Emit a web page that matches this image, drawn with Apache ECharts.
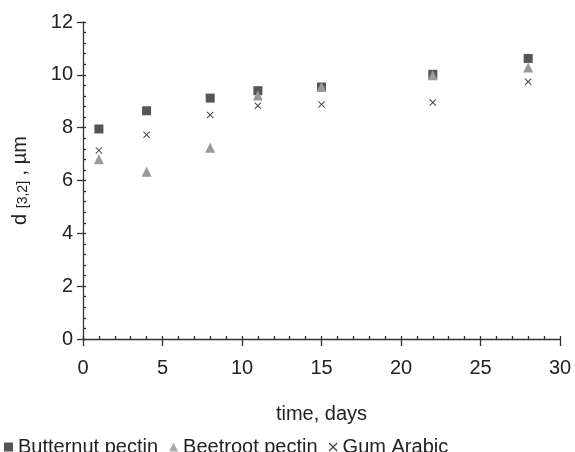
<!DOCTYPE html>
<html>
<head>
<meta charset="utf-8">
<script src="https://cdn.jsdelivr.net/npm/echarts@6/dist/echarts.min.js"></script>
<style>
  html, body { margin: 0; padding: 0; background: #fff; }
  #chart { width: 575px; height: 452px; }
</style>
</head>
<body>
<div id="chart"></div>
<script>
// droplet size d[3,2] over storage time
var days = [1, 4, 8, 11, 15, 22, 28];
var butternut = [7.95, 8.64, 9.12, 9.40, 9.54, 10.02, 10.62];
var beetroot = [6.80, 6.33, 7.24, 9.22, 9.54, 9.98, 10.28];
var gumArabic = [7.14, 7.73, 8.48, 8.83, 8.88, 8.95, 9.74];
var seriesNames = ['Butternut pectin', 'Beetroot pectin', 'Gum Arabic'];

var crossPath = 'path://M0,1 L1,0 L5,4 L9,0 L10,1 L6,5 L10,9 L9,10 L5,6 L1,10 L0,9 L4,5 Z';
var font = 'Liberation Sans, Arial, sans-serif';

function pairs(ys) {
  var out = [];
  for (var i = 0; i < days.length; i++) out.push([days[i], ys[i]]);
  return out;
}

var axisLine = { show: true, lineStyle: { color: '#333', width: 1.3 } };

var myChart = echarts.init(document.getElementById('chart'));
myChart.setOption({
  animation: false,
  textStyle: { fontFamily: font },
  grid: { left: 83, right: 15, top: 22, bottom: 113 },
  legend: {
    left: 0,
    top: 432,
    padding: [5, 5, 5, 4],
    itemGap: 11,
    itemWidth: 9,
    itemHeight: 9,
    textStyle: { fontSize: 20, color: '#222', fontFamily: font },
    data: [
      { name: seriesNames[0], icon: 'rect', itemStyle: { color: '#555' } },
      { name: seriesNames[1], icon: 'triangle', itemStyle: { color: '#aaa' } },
      { name: seriesNames[2], icon: crossPath, itemStyle: { color: '#444' } }
    ]
  },
  xAxis: [{
    type: 'value', min: 0, max: 30, interval: 5,
    name: 'time, days', nameLocation: 'middle', nameGap: 65,
    nameTextStyle: { fontSize: 20, color: '#222', fontFamily: font },
    axisLine: axisLine,
    axisTick: { show: true, inside: true, length: 3, lineStyle: { color: '#333', width: 1.3 } },
    minorTick: { show: true, splitNumber: 5, length: 3, lineStyle: { color: '#333', width: 1.3 } },
    axisLabel: { fontSize: 20, color: '#222', margin: 19, fontFamily: font },
    splitLine: { show: false }
  }, {
    type: 'value', min: 0, max: 30, interval: 5, position: 'bottom',
    axisLine: { show: false },
    axisTick: { show: true, length: 7, lineStyle: { color: '#333', width: 1.3 } },
    axisLabel: { show: false },
    splitLine: { show: false }
  }],
  yAxis: [{
    type: 'value', min: 0, max: 12, interval: 2,
    name: '{a|d }{b|[3,2]}{a| , µm}', nameLocation: 'middle', nameGap: 53,
    nameTextStyle: {
      color: '#222', fontFamily: font,
      rich: {
        a: { fontSize: 20, color: '#222', fontFamily: font },
        b: { fontSize: 14, color: '#222', fontFamily: font, verticalAlign: 'bottom', padding: [6, 0, 0, 0] }
      }
    },
    axisLine: axisLine,
    axisTick: { show: true, inside: true, length: 3, lineStyle: { color: '#333', width: 1.3 } },
    minorTick: { show: true, splitNumber: 5, length: 3, lineStyle: { color: '#333', width: 1.3 } },
    axisLabel: { fontSize: 20, color: '#222', margin: 10, fontFamily: font },
    splitLine: { show: false }
  }, {
    type: 'value', min: 0, max: 12, interval: 2, position: 'left',
    axisLine: { show: false },
    axisTick: { show: true, length: 6, lineStyle: { color: '#333', width: 1.3 } },
    axisLabel: { show: false },
    splitLine: { show: false }
  }],
  series: [{
    name: seriesNames[0], type: 'scatter',
    symbol: 'rect', symbolSize: 9,
    itemStyle: { color: '#555', opacity: 1 },
    data: pairs(butternut)
  }, {
    name: seriesNames[1], type: 'scatter',
    symbol: 'triangle', symbolSize: [10, 10],
    itemStyle: { color: '#999', opacity: 1 },
    data: pairs(beetroot)
  }, {
    name: seriesNames[2], type: 'scatter',
    symbol: crossPath, symbolSize: 7,
    itemStyle: { color: '#444', opacity: 1 },
    data: pairs(gumArabic)
  }]
});
</script>
</body>
</html>
